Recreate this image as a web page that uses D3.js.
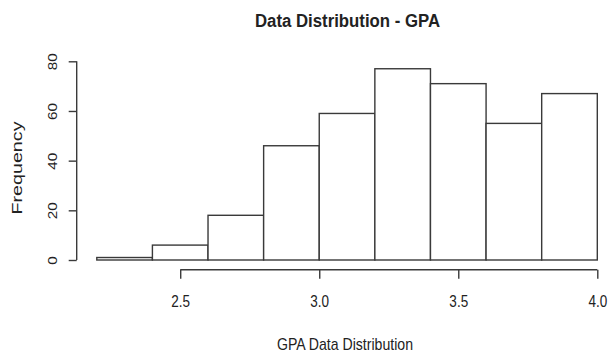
<!DOCTYPE html>
<html>
<head>
<meta charset="utf-8">
<script src="https://cdn.jsdelivr.net/npm/d3@7"></script>
<style>
  html, body { margin: 0; padding: 0; background: #fff; }
  svg { display: block; }
  text { font-family: "Liberation Sans", Arial, sans-serif; fill: #222; }
</style>
</head>
<body>
<svg id="chart" width="609" height="356"></svg>
<script>
// ---- data ----
const binStarts = [2.2, 2.4, 2.6, 2.8, 3.0, 3.2, 3.4, 3.6, 3.8];
const binWidth = 0.2;
const counts = [1, 6, 18, 46, 59, 77, 71, 55, 67];
const xTicks = [2.5, 3.0, 3.5, 4.0];
const xTickLabels = ["2.5", "3.0", "3.5", "4.0"];
const yTicks = [0, 20, 40, 60, 80];
const yTickLabels = ["0", "20", "40", "60", "80"];
const titleText = "Data Distribution - GPA";
const xLabelText = "GPA Data Distribution";
const yLabelText = "Frequency";

const svg = d3.select("#chart");
const ink = "#3a3a3a";

const x = d3.scaleLinear().domain([2.2, 4.0]).range([96.8, 597.3]);
const y = d3.scaleLinear().domain([0, 80]).range([260, 61.3]);

// bars
svg.append("g").selectAll("rect")
  .data(counts)
  .join("rect")
  .attr("x", (d, i) => x(binStarts[i]))
  .attr("width", (d, i) => x(binStarts[i] + binWidth) - x(binStarts[i]))
  .attr("y", d => y(d))
  .attr("height", d => y(0) - y(d))
  .attr("fill", "#fff")
  .attr("stroke", ink)
  .attr("stroke-width", 1.4);

// x axis
const xAxisG = svg.append("g")
  .attr("transform", "translate(0,269.7)")
  .call(d3.axisBottom(x).tickValues(xTicks).tickSize(9).tickSizeOuter(0)
        .tickFormat((d, i) => xTickLabels[i]));
xAxisG.select(".domain").remove();
xAxisG.append("line")
  .attr("x1", x(xTicks[0])).attr("x2", x(xTicks[xTicks.length - 1]))
  .attr("stroke", ink).attr("stroke-width", 1.4);
xAxisG.selectAll(".tick line").attr("stroke", ink).attr("stroke-width", 1.4);
xAxisG.selectAll(".tick text")
  .attr("y", 37)
  .attr("dy", null)
  .attr("font-size", 16.5)
  .attr("fill", "#222")
  .attr("transform", "scale(0.82,1)")
  .style("font-family", "'Liberation Sans', Arial, sans-serif");

// y axis
const yAxisG = svg.append("g")
  .attr("transform", "translate(76.7,0)")
  .call(d3.axisLeft(y).tickValues(yTicks).tickSize(8).tickSizeOuter(0)
        .tickFormat((d, i) => yTickLabels[i]));
yAxisG.select(".domain").remove();
yAxisG.append("line")
  .attr("y1", y(yTicks[0])).attr("y2", y(yTicks[yTicks.length - 1]))
  .attr("stroke", ink).attr("stroke-width", 1.4);
yAxisG.selectAll(".tick line").attr("stroke", ink).attr("stroke-width", 1.4);
yAxisG.selectAll(".tick text")
  .attr("x", null).attr("dy", null)
  .attr("text-anchor", "middle")
  .attr("transform", "translate(-20,0) rotate(-90) scale(1,0.85)")
  .attr("font-size", 16)
  .attr("fill", "#222")
  .attr("textLength", d => String(d).length * 8.5)
  .attr("lengthAdjust", "spacingAndGlyphs")
  .style("font-family", "'Liberation Sans', Arial, sans-serif");

// title
svg.append("text")
  .attr("x", 347.5).attr("y", 26.7)
  .attr("text-anchor", "middle")
  .attr("font-size", 17.5)
  .attr("font-weight", "bold")
  .attr("fill", "#111")
  .attr("textLength", 185)
  .attr("lengthAdjust", "spacingAndGlyphs")
  .text(titleText);

// x label
svg.append("text")
  .attr("x", 345).attr("y", 350)
  .attr("text-anchor", "middle")
  .attr("font-size", 17)
  .attr("fill", "#222")
  .attr("textLength", 136)
  .attr("lengthAdjust", "spacingAndGlyphs")
  .text(xLabelText);

// y label
svg.append("text")
  .attr("transform", "translate(22,168) rotate(-90) scale(1,0.85)")
  .attr("text-anchor", "middle")
  .attr("font-size", 17)
  .attr("fill", "#222")
  .attr("textLength", 93)
  .attr("lengthAdjust", "spacingAndGlyphs")
  .text(yLabelText);
</script>
</body>
</html>
